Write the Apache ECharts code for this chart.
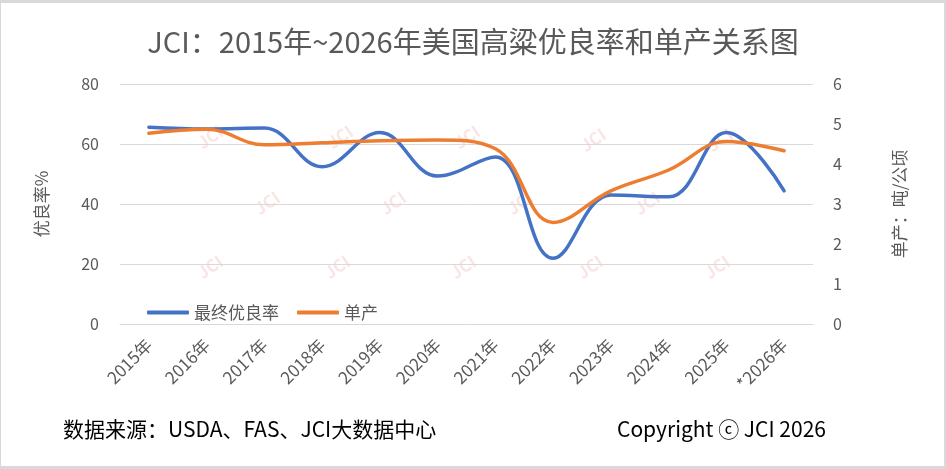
<!DOCTYPE html>
<html><head><meta charset="utf-8">
<script src="https://cdn.jsdelivr.net/npm/echarts@6/dist/echarts.min.js"></script>
<style>
html,body{margin:0;padding:0;background:#d9d9d9;width:946px;height:469px;overflow:hidden}
#frame{position:absolute;left:1px;top:3px;width:943px;height:463px;background:#fff}
#c{position:absolute;left:-1px;top:-3px;width:946px;height:469px}
</style></head>
<body><div id="frame"><div id="c"></div></div>
<script>
const categories = ['2015年','2016年','2017年','2018年','2019年','2020年','2021年','2022年','2023年','2024年','2025年','*2026年'];
const goodRate = [65.6, 65, 65.3, 52.4, 63.8, 49.3, 55.7, 21.9, 43, 42.4, 63.8, 44.4];
const yieldVals = [4.77, 4.87, 4.48, 4.53, 4.58, 4.6, 4.38, 2.54, 3.33, 3.85, 4.56, 4.33];
const leftTicks = {min: 0, max: 80, interval: 20};
const rightTicks = {min: 0, max: 6, interval: 1};

const font = '"Noto Sans CJK SC","Noto Sans",sans-serif';
const chart = echarts.init(document.getElementById('c'), null, {renderer: 'canvas'});

const wm = [];
const wmPos = [[210,137],[340,137],[467,137],[593,140],[720,140],
               [267,203],[393,203],[520,203],[647,203],
               [210,267],[337,267],[463,267],[590,267],[717,267]];
wmPos.forEach(p => {
  wm.push({type:'text', x:p[0], y:p[1], rotation:0.6, z:-1,
    style:{text:'JCI', font:'bold 17px ' + font, fill:'rgba(225,110,110,0.18)', textAlign:'center', textVerticalAlign:'middle'}});
});

chart.setOption({
  animation: false,
  textStyle: {fontFamily: font},
  title: {
    text: 'JCI：2015年~2026年美国高粱优良率和单产关系图',
    left: 'center', top: 22,
    textStyle: {fontSize: 29, fontWeight: 'normal', color: '#595959', fontFamily: font}
  },
  legend: {
    left: 142, top: 299,
    itemWidth: 42, itemHeight: 4, itemGap: 18,
    icon: 'roundRect',
    textStyle: {fontSize: 17, color: '#595959', fontFamily: font},
    data: ['最终优良率', '单产']
  },
  grid: {left: 120, right: 133, top: 84, bottom: 145, containLabel: false},
  xAxis: {
    type: 'category', data: categories, boundaryGap: true,
    axisLine: {lineStyle: {color: '#d9d9d9', width: 1}},
    axisTick: {show: false},
    axisLabel: {rotate: 45, interval: 0, color: '#595959', fontSize: 17, margin: 18, fontFamily: font}
  },
  yAxis: [
    {
      type: 'value', min: leftTicks.min, max: leftTicks.max, interval: leftTicks.interval,
      name: '优良率%', nameLocation: 'middle', nameRotate: 90, nameGap: 70,
      nameTextStyle: {fontSize: 17, color: '#595959', fontFamily: font},
      axisLine: {show: false}, axisTick: {show: false},
      axisLabel: {color: '#595959', fontSize: 16, margin: 21, fontFamily: font},
      splitLine: {lineStyle: {color: '#d9d9d9', width: 1}}
    },
    {
      type: 'value', min: rightTicks.min, max: rightTicks.max, interval: rightTicks.interval,
      name: '单产：吨/公顷', nameLocation: 'middle', nameRotate: 90, nameGap: 78,
      nameTextStyle: {fontSize: 17, color: '#595959', fontFamily: font},
      axisLine: {show: false}, axisTick: {show: false},
      axisLabel: {color: '#595959', fontSize: 16, margin: 20, fontFamily: font},
      splitLine: {show: false}
    }
  ],
  series: [
    {
      name: '最终优良率', type: 'line', yAxisIndex: 0, data: goodRate,
      smooth: 0.4, symbol: 'none',
      lineStyle: {color: '#4472C4', width: 3.5, cap: 'round'},
      itemStyle: {color: '#4472C4'}, z: 3
    },
    {
      name: '单产', type: 'line', yAxisIndex: 1, data: yieldVals,
      smooth: 0.4, symbol: 'none',
      lineStyle: {color: '#ED7D31', width: 3.5, cap: 'round'},
      itemStyle: {color: '#ED7D31'}, z: 4
    }
  ],
  graphic: wm.concat([
    {type:'text', left: 63, top: 419,
      style:{text:'数据来源：USDA、FAS、JCI大数据中心', font:'21px ' + font, fill:'#000'}},
    {type:'text', left: 617, top: 419,
      style:{text:'Copyright ⓒ JCI 2026', font:'21px ' + font, fill:'#000'}}
  ])
});
</script>
</body></html>
